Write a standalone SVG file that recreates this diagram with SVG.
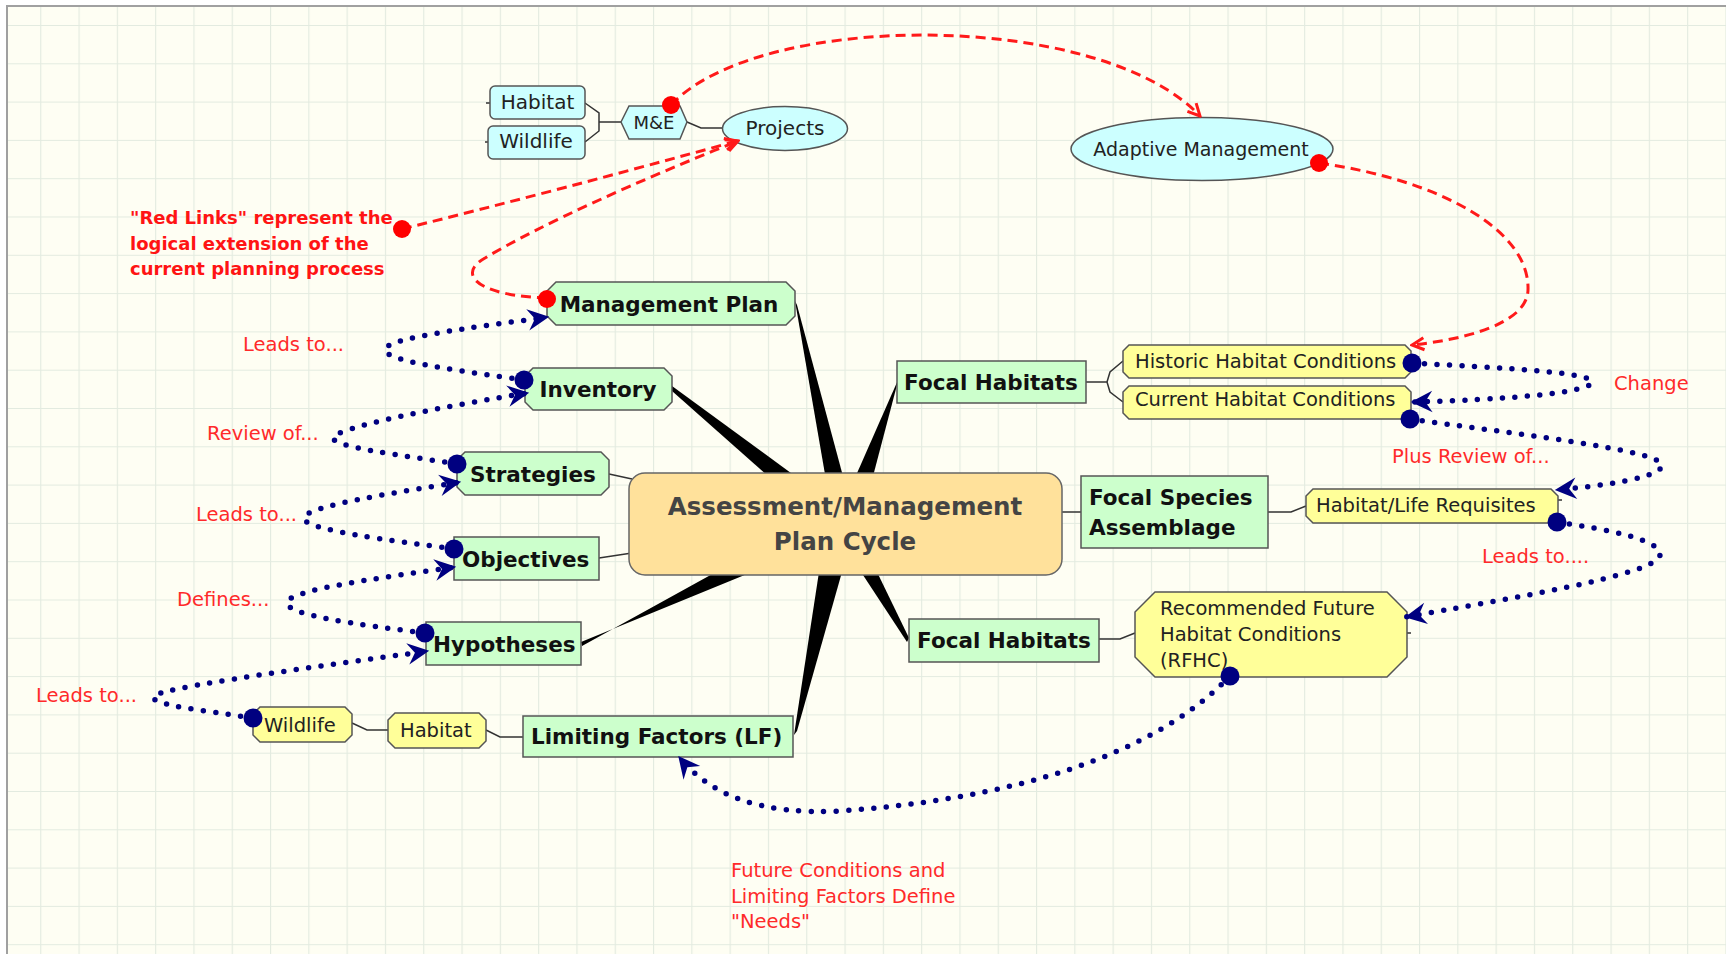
<svg xmlns="http://www.w3.org/2000/svg" width="1726" height="954" viewBox="0 0 1726 954">
<defs>
<pattern id="grid" x="1.9" y="25" width="38.3" height="38.3" patternUnits="userSpaceOnUse">
<rect width="38.3" height="38.3" fill="#fefef3"/>
<path d="M0,0 V38.3 M0,0 H38.3" stroke="#e3ebe0" stroke-width="2.2" fill="none"/>
</pattern>
<marker id="ab" viewBox="0 0 20 20" refX="18" refY="10" markerWidth="24" markerHeight="24" markerUnits="userSpaceOnUse" orient="auto">
<path d="M1,1 L19,10 L1,19 L7,10 z" fill="#000080"/>
</marker>
<marker id="ar" viewBox="0 0 16 16" refX="14" refY="8" markerWidth="16" markerHeight="16" markerUnits="userSpaceOnUse" orient="auto">
<path d="M2,2 L14,8 L2,14" fill="none" stroke="#ff1a1a" stroke-width="3"/>
</marker>
<style>
.gr{fill:#ccffcc;stroke:#555;stroke-width:1.5}
.ye{fill:#ffff99;stroke:#555;stroke-width:1.5}
.cy{fill:#ccffff;stroke:#555;stroke-width:1.5}
.ce{fill:#ffe19b;stroke:#666;stroke-width:1.5}
.tb{font-family:"DejaVu Sans",sans-serif;font-weight:bold;font-size:21.5px;fill:#111}
.tc{font-family:"DejaVu Sans",sans-serif;font-weight:bold;font-size:24.5px;fill:#444}
.tr{font-family:"DejaVu Sans",sans-serif;font-size:19.5px;fill:#222}
.lb{font-family:"DejaVu Sans",sans-serif;font-size:19.5px;fill:#ff2a2a}
.rl{font-family:"DejaVu Sans",sans-serif;font-weight:bold;font-size:18px;fill:#ff1414}
.ln{fill:none;stroke:#333;stroke-width:1.5}
.wd{fill:#000}
.bl{fill:none;stroke:#000080;stroke-width:5.5;stroke-dasharray:0 12.5;stroke-linecap:round;marker-end:url(#ab)}
.rd{fill:none;stroke:#ff1a1a;stroke-width:3;stroke-dasharray:10 6;marker-end:url(#ar)}
.bd{fill:#000080}
.rdot{fill:#ff0000}
</style>
</defs>
<rect width="1726" height="954" fill="#ffffff"/>
<rect x="7" y="6" width="1719" height="948" fill="url(#grid)"/>
<path d="M7,954 V6 H1726" fill="none" stroke="#a0a0a0" stroke-width="2"/>

<g id="connectors">
<path class="ln" d="M585,103 L599,113 L599,131 L585,142 M599,122 L621,122 M486,103 L490,103 M485,142 L488,142"/>
<path class="ln" d="M687,122 L701,128 L722,128"/>
<path class="ln" d="M1086,382 L1107,382 M1107,382 L1110,372 L1123,361 M1107,382 L1110,392 L1123,402"/>
<path class="ln" d="M1062,512 L1081,512"/>
<path class="ln" d="M1268,512 L1291,512 L1306,506 M1558,500 L1562,500"/>
<path class="ln" d="M1099,639 L1120,639 L1135,633 M1407,633 L1411,633"/>
<path class="ln" d="M486,730 L500,737 L523,737"/>
<path class="ln" d="M352,723 L367,730 L388,730"/>
<path class="ln" d="M609,474 L632,479"/>
<path class="ln" d="M599,558 L632,553"/>
<polygon class="wd" points="795,301 797,305 844,480 826,480"/>
<polygon class="wd" points="898,380 897,385 872,480 854,480"/>
<polygon class="wd" points="672,386 672,391 768,476 795,476"/>
<polygon class="wd" points="581,642 582,646 716,572 752,572"/>
<polygon class="wd" points="794,735 797,731 842,572 819,572"/>
<polygon class="wd" points="909,638 907,642 861,572 877,572"/>
</g>

<g id="n-center">
<rect class="ce" x="629" y="473" width="433" height="102" rx="16"/>
<text class="tc" x="845" y="515" text-anchor="middle">Assessment/Management</text>
<text class="tc" x="845" y="550" text-anchor="middle">Plan Cycle</text>
</g>
<g id="n-mgmtplan">
<polygon class="gr" points="556,282 786,282 795,291 795,316 786,325 556,325 547,316 547,291"/>
<text class="tb" x="669" y="312" text-anchor="middle">Management Plan</text>
</g>
<g id="n-inventory">
<polygon class="gr" points="533,368 664,368 672,376 672,402 664,410 533,410 525,402 525,376"/>
<text class="tb" x="598" y="397" text-anchor="middle">Inventory</text>
</g>
<g id="n-strategies">
<polygon class="gr" points="465,452 601,452 609,460 609,487 601,495 465,495 457,487 457,460"/>
<text class="tb" x="470" y="482">Strategies</text>
</g>
<g id="n-objectives">
<rect class="gr" x="454" y="537" width="145" height="43"/>
<text class="tb" x="462" y="567">Objectives</text>
</g>
<g id="n-hypotheses">
<rect class="gr" x="426" y="622" width="155" height="43"/>
<text class="tb" x="433" y="652">Hypotheses</text>
</g>
<g id="n-lf">
<rect class="gr" x="523" y="716" width="270" height="41"/>
<text class="tb" x="531" y="744">Limiting Factors (LF)</text>
</g>
<g id="n-habitat-lf">
<polygon class="ye" points="395,713 479,713 486,720 486,741 479,748 395,748 388,741 388,720"/>
<text class="tr" x="400" y="737">Habitat</text>
</g>
<g id="n-wildlife-lf">
<polygon class="ye" points="260,707 345,707 352,714 352,735 345,742 260,742 253,735 253,714"/>
<text class="tr" x="264" y="732">Wildlife</text>
</g>
<g id="n-focalhab1">
<rect class="gr" x="897" y="361" width="189" height="42"/>
<text class="tb" x="991" y="390" text-anchor="middle">Focal Habitats</text>
</g>
<g id="n-historic">
<polygon class="ye" points="1129,345 1405,345 1411,351 1411,372 1405,378 1129,378 1123,372 1123,351"/>
<text class="tr" x="1135" y="367.5">Historic Habitat Conditions</text>
</g>
<g id="n-current">
<polygon class="ye" points="1129,386 1405,386 1411,392 1411,413 1405,419 1129,419 1123,413 1123,392"/>
<text class="tr" x="1135" y="406">Current Habitat Conditions</text>
</g>
<g id="n-focalspecies">
<rect class="gr" x="1081" y="476" width="187" height="72"/>
<text class="tb" x="1089" y="505">Focal Species</text>
<text class="tb" x="1089" y="535">Assemblage</text>
</g>
<g id="n-hlr">
<polygon class="ye" points="1313,489 1551,489 1558,496 1558,516 1551,523 1313,523 1306,516 1306,496"/>
<text class="tr" x="1316" y="512">Habitat/Life Requisites</text>
</g>
<g id="n-focalhab2">
<rect class="gr" x="909" y="619" width="190" height="43"/>
<text class="tb" x="1004" y="648" text-anchor="middle">Focal Habitats</text>
</g>
<g id="n-rfhc">
<polygon class="ye" points="1155,592 1387,592 1407,612 1407,657 1387,677 1155,677 1135,657 1135,612"/>
<text class="tr" x="1160" y="615">Recommended Future</text>
<text class="tr" x="1160" y="641">Habitat Conditions</text>
<text class="tr" x="1160" y="667">(RFHC)</text>
</g>
<g id="n-habitat-me">
<rect class="cy" x="490" y="86" width="95" height="33" rx="5"/>
<text class="tr" x="537.5" y="109" text-anchor="middle" style="font-size:20px">Habitat</text>
</g>
<g id="n-wildlife-me">
<rect class="cy" x="488" y="126" width="97" height="33" rx="5"/>
<text class="tr" x="536" y="148" text-anchor="middle" style="font-size:20px">Wildlife</text>
</g>
<g id="n-me">
<polygon class="cy" points="621,122 629,106 680,106 687,122 680,139 629,139"/>
<text class="tr" x="654" y="129" text-anchor="middle" style="font-size:18px">M&amp;E</text>
</g>
<g id="n-projects">
<ellipse class="cy" cx="785" cy="128.5" rx="62.5" ry="22"/>
<text class="tr" x="785" y="135" text-anchor="middle" style="font-size:20px">Projects</text>
</g>
<g id="n-adaptive">
<ellipse class="cy" cx="1202" cy="149" rx="131" ry="31.5"/>
<text class="tr" x="1201" y="156" text-anchor="middle" style="font-size:19px">Adaptive Management</text>
</g>

<g id="links">
<path class="rd" d="M671,105 C760,10 1100,10 1200,116"/>
<path class="rd" d="M1319,163 C1440,180 1530,230 1528,290 C1527,325 1460,340 1412,345"/>
<path class="rd" d="M402,229 Q560,190 737,141"/>
<path class="rd" d="M547,298 C480,296 455,275 485,258 C540,225 640,180 738,141"/>
<path class="bl" d="M524,380 C470,372 385,362 385,350 C385,338 470,328 548,317"/>
<path class="bl" d="M457,464 C400,455 333,447 333,438 C333,428 450,405 528,393"/>
<path class="bl" d="M454,549 C390,540 303,530 304,518 C305,506 400,492 460,482"/>
<path class="bl" d="M425,633 C360,625 287,615 287,603 C287,590 380,578 455,567"/>
<path class="bl" d="M253,718 C200,710 153,705 153,697 C153,688 330,665 428,651"/>
<path class="bl" d="M1412,363 C1500,368 1592,372 1592,382 C1592,393 1500,400 1412,402"/>
<path class="bl" d="M1410,419 C1500,432 1662,450 1662,465 C1662,478 1600,486 1556,490"/>
<path class="bl" d="M1557,522 C1610,530 1662,540 1660,555 C1658,575 1500,600 1406,617"/>
<path class="bl" d="M1230,676 C1150,760 1000,800 840,811 C760,815 710,795 679,757"/>
<circle class="rdot" cx="671" cy="105" r="9"/>
<circle class="rdot" cx="1319" cy="163" r="9"/>
<circle class="rdot" cx="402" cy="229" r="9"/>
<circle class="rdot" cx="547" cy="299" r="9"/>
<circle class="bd" cx="524" cy="380" r="9.5"/>
<circle class="bd" cx="457" cy="464" r="9.5"/>
<circle class="bd" cx="454" cy="549" r="9.5"/>
<circle class="bd" cx="425" cy="633" r="9.5"/>
<circle class="bd" cx="253" cy="718" r="9.5"/>
<circle class="bd" cx="1412" cy="363" r="9.5"/>
<circle class="bd" cx="1410" cy="419" r="9.5"/>
<circle class="bd" cx="1557" cy="522" r="9.5"/>
<circle class="bd" cx="1230" cy="676" r="9.5"/>
</g>

<g id="labels">
<text class="rl" x="130" y="224">"Red Links" represent the</text>
<text class="rl" x="130" y="250">logical extension of the</text>
<text class="rl" x="130" y="275">current planning process</text>
<text class="lb" x="243" y="351">Leads to...</text>
<text class="lb" x="207" y="440">Review of...</text>
<text class="lb" x="196" y="521">Leads to...</text>
<text class="lb" x="177" y="606">Defines...</text>
<text class="lb" x="36" y="702">Leads to...</text>
<text class="lb" x="1614" y="390">Change</text>
<text class="lb" x="1392" y="463">Plus Review of...</text>
<text class="lb" x="1482" y="563">Leads to....</text>
<text class="lb" x="731" y="877">Future Conditions and</text>
<text class="lb" x="731" y="903">Limiting Factors Define</text>
<text class="lb" x="731" y="928">"Needs"</text>
</g>
</svg>
